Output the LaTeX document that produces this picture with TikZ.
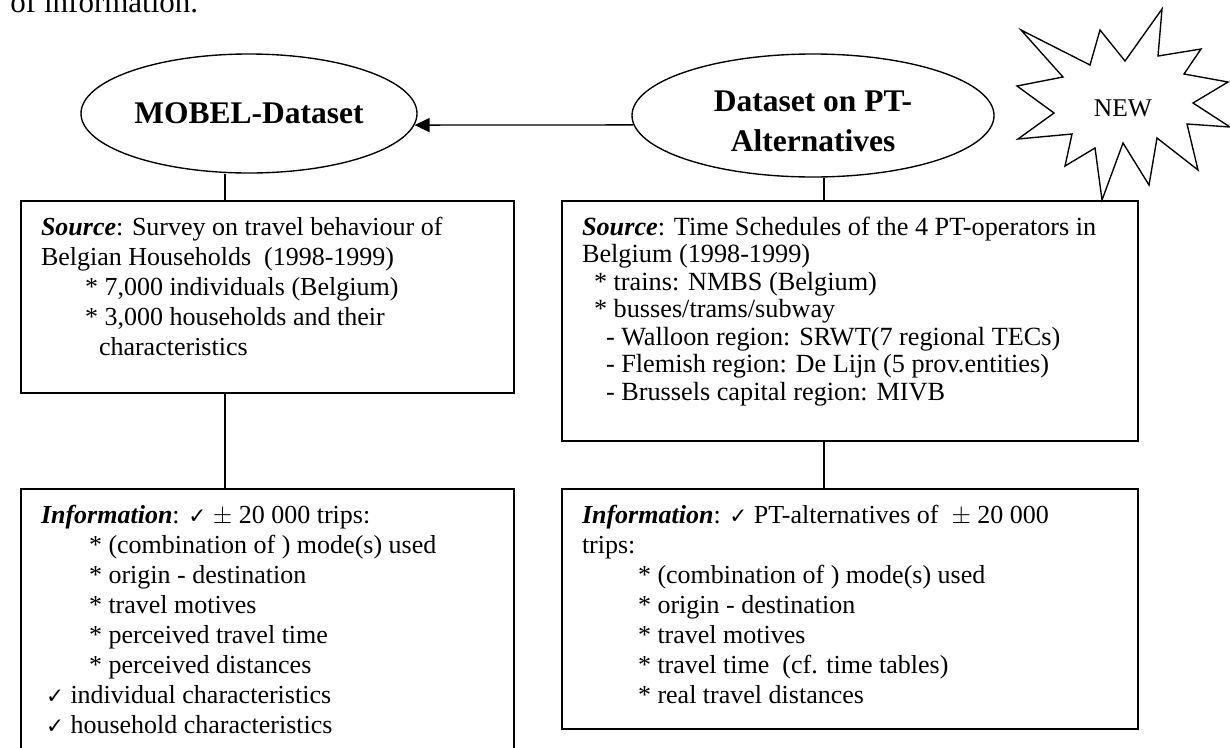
\documentclass[tikz,border=0pt]{standalone}
\usepackage{fontspec}
\setmainfont{Liberation Serif}
\newfontfamily\tekens{DejaVu Sans}
\usetikzlibrary{arrows.meta,positioning,shapes.geometric}
\newcommand{\vink}{{\tekens\fontsize{8.6}{8.6}\selectfont ✓}}
\tikzset{
  ovaal/.style={ellipse,draw,line width=0.55pt,inner sep=0pt,align=center,
    font=\fontsize{12.6}{16}\selectfont\bfseries},
  doos/.style={draw,line width=0.8pt,inner xsep=8pt,inner ysep=6.4pt,anchor=north west,
    font=\fontsize{10.4}{12}\selectfont},
  pijl/.style={-{Triangle[length=6pt,width=5.6pt]},line width=0.55pt},
  lijn/.style={line width=0.7pt},
  ster/.style={draw,line width=0.55pt,line join=miter},
}

\begin{document}
\begin{tikzpicture}[x=0.4pt,y=-0.4pt]
  \useasboundingbox (0,0) rectangle (1230,747);
  \node[anchor=base west,inner sep=0pt,font=\fontsize{12.4}{14}\selectfont] (kop) at (10,12) {of information.};

  \node[ovaal,minimum width=134.4pt,minimum height=47.6pt] (mobel) at (249,113.5) {MOBEL-Dataset};
  \node[ovaal,minimum width=144.8pt,minimum height=49.2pt] (ptalt) at (813,115.5)
    {\rule{0pt}{12.6pt}Dataset on PT-\\Alternatives};
  \draw[pijl] (ptalt.183) -- (mobel.356);

  \draw[ster] (1162,9) -- (1158,56) -- (1201,49) -- (1184,74) -- (1228,82) -- (1193,103)
    -- (1230,127) -- (1187,124) -- (1198,170) -- (1157,138) -- (1149,185) -- (1123,143)
    -- (1102,200) -- (1095,148) -- (1065,166) -- (1072,134) -- (1018,139) -- (1054,113)
    -- (1017,86) -- (1063,77) -- (1021,30) -- (1090,65) -- (1100,30) -- (1125,61) -- cycle;
  \node[font=\fontsize{10.2}{12}\selectfont] (nieuw) at (1123,108) {NEW};

  \node[doos] (bronL) at (20,200) {\begin{minipage}[t][64pt][t]{181.2pt}
    \textbf{\textit{Source}}: Survey on travel behaviour of\\
    Belgian Households\ \ (1998-1999)\\
    \hspace*{17.6pt}* 7,000 individuals (Belgium)\\
    \hspace*{17.6pt}* 3,000 households and their\\
    \hspace*{23.2pt}characteristics
  \end{minipage}};

  \node[doos] (bronR) at (561,200) {\begin{minipage}[t][83.2pt][t]{214.4pt}
    \fontsize{10.5}{11}\selectfont
    \textbf{\textit{Source}}: Time Schedules of the 4 PT-operators in\\
    Belgium (1998-1999)\\
    \hspace*{4.8pt}* trains: NMBS (Belgium)\\
    \hspace*{4.8pt}* busses/trams/subway\\
    \hspace*{9.6pt}- Walloon region: SRWT(7 regional TECs)\\
    \hspace*{9.6pt}- Flemish region: De Lijn (5 prov.entities)\\
    \hspace*{9.6pt}- Brussels capital region: MIVB
  \end{minipage}};

  \node[doos] (infoL) at (20,488) {\begin{minipage}[t][99.2pt][t]{181.2pt}
    \textbf{\textit{Information}}: \vink\ $\pm$ 20 000 trips:\\
    \hspace*{19.2pt}* (combination of ) mode(s) used\\
    \hspace*{19.2pt}* origin - destination\\
    \hspace*{19.2pt}* travel motives\\
    \hspace*{19.2pt}* perceived travel time\\
    \hspace*{19.2pt}* perceived distances\\
    \hspace*{2pt}\vink\ individual characteristics\\
    \hspace*{2pt}\vink\ household characteristics
  \end{minipage}};

  \node[doos] (infoR) at (561,488) {\begin{minipage}[t][83.2pt][t]{214.4pt}
    \textbf{\textit{Information}}: \vink\ PT-alternatives of\ \ $\pm$ 20 000\\
    trips:\\
    \hspace*{22.4pt}* (combination of ) mode(s) used\\
    \hspace*{22.4pt}* origin - destination\\
    \hspace*{22.4pt}* travel motives\\
    \hspace*{22.4pt}* travel time\ \ (cf. time tables)\\
    \hspace*{22.4pt}* real travel distances
  \end{minipage}};

  \coordinate (asL) at (225,0);
  \coordinate (asR) at (824,0);
  \draw[lijn] (mobel.south -| asL) -- (bronL.north -| asL);
  \draw[lijn] (bronL.south -| asL) -- (infoL.north -| asL);
  \draw[lijn] (ptalt.south -| asR) -- (bronR.north -| asR);
  \draw[lijn] (bronR.south -| asR) -- (infoR.north -| asR);
\end{tikzpicture}
\end{document}
